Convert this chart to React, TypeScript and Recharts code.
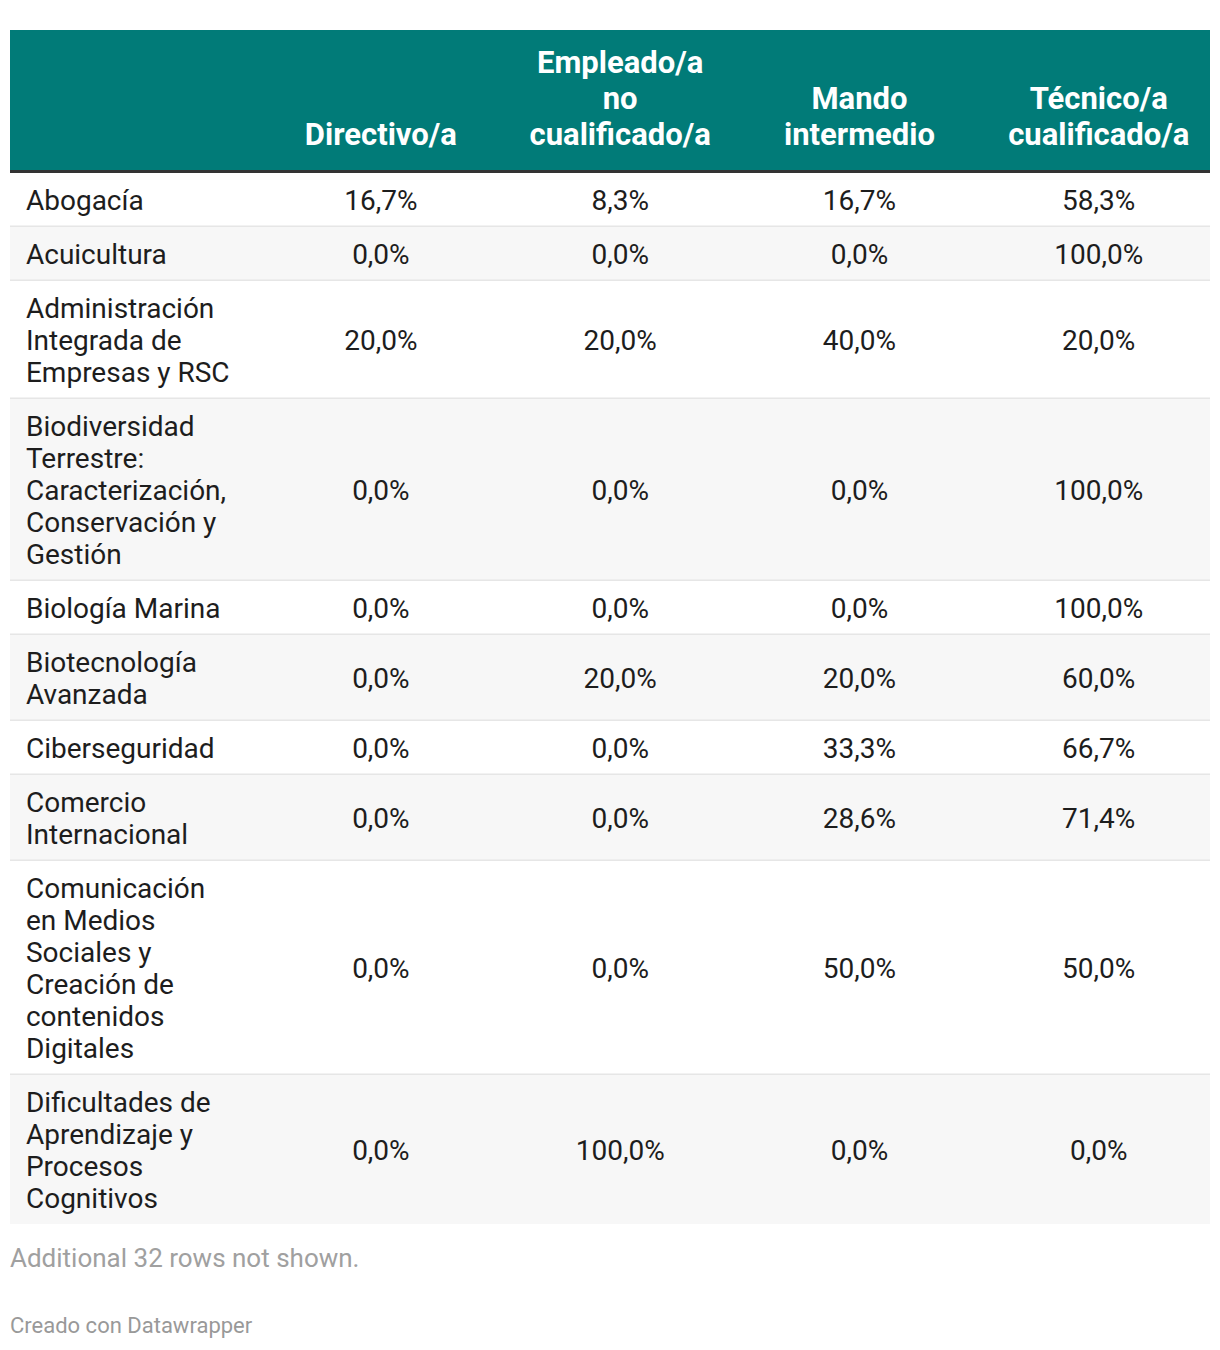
import React from 'react';
import { ComposedChart, XAxis, YAxis, Scatter, ReferenceArea } from 'recharts';

// ---------- data ----------
const categories: string[] = [
  'Abogacía',
  'Acuicultura',
  'Administración\nIntegrada de\nEmpresas y RSC',
  'Biodiversidad\nTerrestre:\nCaracterización,\nConservación y\nGestión',
  'Biología Marina',
  'Biotecnología\nAvanzada',
  'Ciberseguridad',
  'Comercio\nInternacional',
  'Comunicación\nen Medios\nSociales y\nCreación de\ncontenidos\nDigitales',
  'Dificultades de\nAprendizaje y\nProcesos\nCognitivos',
];

const columnHeaders: string[] = [
  'Directivo/a',
  'Empleado/a\nno\ncualificado/a',
  'Mando\nintermedio',
  'Técnico/a\ncualificado/a',
];

const directivo: number[] = [16.7, 0, 20, 0, 0, 0, 0, 0, 0, 0];
const empleadoNoCualificado: number[] = [8.3, 0, 20, 0, 0, 20, 0, 0, 0, 100];
const mandoIntermedio: number[] = [16.7, 0, 40, 0, 0, 20, 33.3, 28.6, 50, 0];
const tecnicoCualificado: number[] = [58.3, 100, 20, 100, 100, 60, 66.7, 71.4, 50, 0];

const series: number[][] = [directivo, empleadoNoCualificado, mandoIntermedio, tecnicoCualificado];

const footnote = 'Additional 32 rows not shown.';
const credit = 'Creado con Datawrapper';

// ---------- layout / style ----------
const FONT = 'Roboto, "Noto Sans", Arial, sans-serif';
const TEAL = '#017b78';
const TEXT = '#1d1d1d';
const ROW_ALT = '#f7f7f7';
const SEP = '#e6e6e6';
const CHART_W = 1204;
const MARGIN_TOP = 22;
const HEADER_H = 140;
const BORDER_H = 3;
const LINE_H = 32;
const ROW_PAD = 22;
const BODY_SIZE = 28;
const HEAD_SIZE = 31;
const HEAD_LINE_H = 36;
const X_MIN = -0.05;
const X_MAX = 4.965;

const fmt = (v: number) => v.toFixed(1).replace('.', ',') + '%';

type RowGeo = { top: number; bottom: number; mid: number; lines: string[] };
const rowGeo: RowGeo[] = (() => {
  let y = HEADER_H + BORDER_H;
  return categories.map((c) => {
    const lines = c.split('\n');
    const h = ROW_PAD + LINE_H * lines.length;
    const g = { top: y, bottom: y + h, mid: y + (h - 1) / 2, lines };
    y += h;
    return g;
  });
})();
const TOTAL = rowGeo[rowGeo.length - 1].bottom - 1;

const labelData = rowGeo.map((g) => ({ x: 0, y: g.mid, lines: g.lines }));
const cellData = series.map((vals, ci) =>
  vals.map((v, ri) => ({ x: ci + 1.5, y: rowGeo[ri].mid, text: fmt(v) }))
);
const headerData = columnHeaders.map((h, ci) => ({ x: ci + 1.5, y: HEADER_H, lines: h.split('\n') }));

const LabelShape = (p: any) => {
  const lines: string[] = p.payload.lines;
  const first = p.cy - ((lines.length - 1) * LINE_H) / 2 + 10.5;
  return (
    <text x={p.cx + 4} y={first} fontFamily={FONT} fontSize={BODY_SIZE} fill={TEXT} textAnchor="start">
      {lines.map((l, i) => (
        <tspan key={i} x={p.cx + 4} y={first + i * LINE_H}>
          {l}
        </tspan>
      ))}
    </text>
  );
};

const CellShape = (p: any) => (
  <text x={p.cx} y={p.cy + 10.5} fontFamily={FONT} fontSize={BODY_SIZE} fill={TEXT} textAnchor="middle">
    {p.payload.text}
  </text>
);

const HeaderShape = (p: any) => {
  const lines: string[] = p.payload.lines;
  const lastBase = p.cy - 25;
  return (
    <text x={p.cx} y={lastBase} fontFamily={FONT} fontSize={HEAD_SIZE} fontWeight={700} fill="#ffffff" textAnchor="middle">
      {lines.map((l, i) => (
        <tspan key={i} x={p.cx} y={lastBase - (lines.length - 1 - i) * HEAD_LINE_H}>
          {l}
        </tspan>
      ))}
    </text>
  );
};

export default function App() {
  return (
    <div style={{ position: 'relative', width: CHART_W, height: 1334, fontFamily: FONT }}>
      <ComposedChart
        width={CHART_W}
        height={MARGIN_TOP + TOTAL}
        margin={{ top: MARGIN_TOP, right: 2, bottom: 0, left: 2 }}
      >
        <XAxis type="number" dataKey="x" domain={[X_MIN, X_MAX]} hide allowDataOverflow />
        <YAxis type="number" dataKey="y" domain={[0, TOTAL]} reversed hide allowDataOverflow />
        <ReferenceArea x1={X_MIN} x2={X_MAX} y1={0} y2={HEADER_H} fill={TEAL} fillOpacity={1} stroke="none" ifOverflow="visible" />
        <ReferenceArea x1={X_MIN} x2={X_MAX} y1={HEADER_H} y2={HEADER_H + BORDER_H} fill="#333333" fillOpacity={1} stroke="none" ifOverflow="visible" />
        {rowGeo.map((g, i) => (
          <ReferenceArea
            key={'bg' + i}
            x1={X_MIN}
            x2={X_MAX}
            y1={g.top}
            y2={Math.min(g.bottom, TOTAL)}
            fill={i % 2 === 1 ? ROW_ALT : '#ffffff'}
            fillOpacity={1}
            stroke="none"
            ifOverflow="visible"
          />
        ))}
        {rowGeo.slice(0, -1).map((g, i) => (
          <ReferenceArea
            key={'sep' + i}
            x1={X_MIN}
            x2={X_MAX}
            y1={g.bottom - 1.5}
            y2={g.bottom}
            fill={SEP}
            fillOpacity={1}
            stroke="none"
            ifOverflow="visible"
          />
        ))}
        <Scatter data={headerData} shape={HeaderShape} isAnimationActive={false} />
        <Scatter data={labelData} shape={LabelShape} isAnimationActive={false} />
        {cellData.map((d, i) => (
          <Scatter key={'c' + i} data={d} shape={CellShape} isAnimationActive={false} />
        ))}
      </ComposedChart>
      <div style={{ position: 'absolute', left: 2, top: 1237, fontSize: 26, lineHeight: '26px', color: '#a0a0a0', whiteSpace: 'nowrap' }}>
        {footnote}
      </div>
      <div style={{ position: 'absolute', left: 2, top: 1307, fontSize: 22, lineHeight: '22px', color: '#999999', whiteSpace: 'nowrap' }}>
        {credit}
      </div>
    </div>
  );
}
